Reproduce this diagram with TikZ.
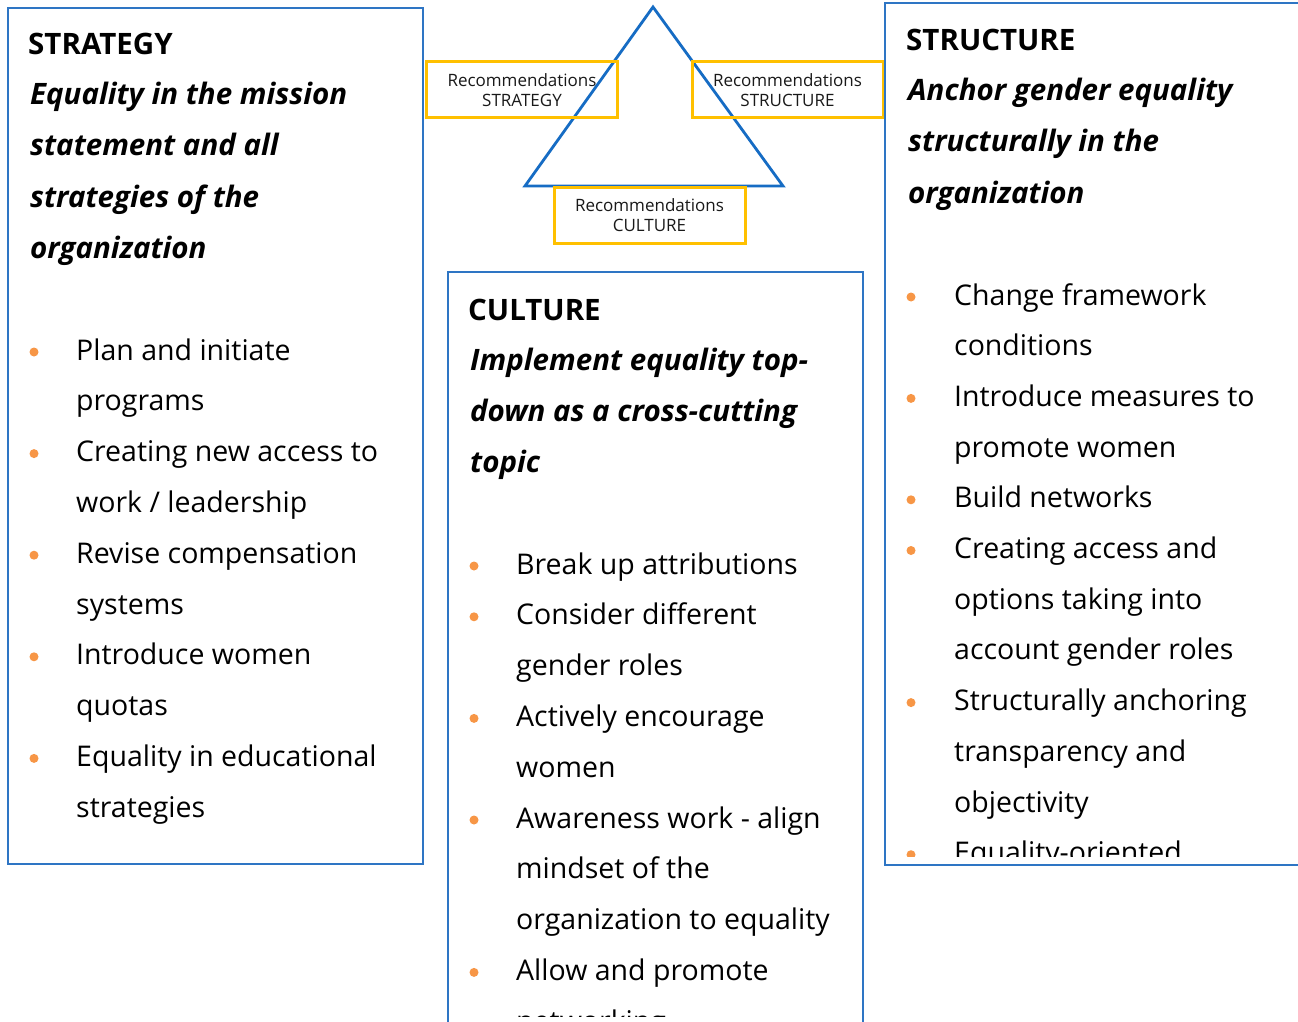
\documentclass[tikz,border=0pt]{standalone}
\usepackage{fontspec}
\setmainfont{Open Sans}
\definecolor{panelblue}{RGB}{46,117,196}
\definecolor{triblue}{RGB}{22,108,196}
\definecolor{recyellow}{RGB}{255,192,0}
\definecolor{recgray}{RGB}{25,25,25}
\definecolor{dotorange}{RGB}{247,150,70}
\begin{document}
\begin{tikzpicture}[x=1pt,y=-1pt,
  panel/.style={draw=panelblue,line width=1.4pt},
  head/.style={anchor=base west,inner sep=0pt,font=\fontsize{29.5}{34}\selectfont\bfseries},
  sub/.style={anchor=base west,inner sep=0pt,font=\fontsize{29.5}{34}\selectfont\bfseries\itshape},
  item/.style={anchor=base west,inner sep=0pt,font=\fontsize{28.5}{34}\selectfont},
  dot/.style={circle,fill=dotorange,inner sep=0pt,minimum size=9pt},
  recbox/.style={draw=recyellow,line width=3pt,align=center,text=recgray,
    font=\fontsize{17}{20}\selectfont,inner sep=0pt,minimum width=191pt,minimum height=56pt},
  tri/.style={draw=triblue,line width=2.8pt,line join=miter},
]
\useasboundingbox (0,0) rectangle (1298,1022);
\fill[white] (0,0) rectangle (1298,1022);

% ---------- central triangle with the three recommendation labels ----------
\coordinate (apex) at (653,7);
\coordinate (bl) at (525,186);
\coordinate (br) at (783,186);
\draw[tri] (apex) -- (bl) -- (br) -- cycle;
\node[recbox] (recstg) at (522,90)    {Recommendations\\STRATEGY};
\node[recbox] (recstr) at (787.5,90)  {Recommendations\\STRUCTURE};
\node[recbox] (reccul) at (649.5,215) {Recommendations\\CULTURE};

% ---------- STRATEGY panel ----------
\draw[panel] (8,8) rectangle (423,864);
\node[head] (stghead) at (28,55) {STRATEGY};
\foreach \t [count=\i] in {Equality in the mission,statement and all,strategies of the,organization}
  \node[sub] (stgsub-\i) at (30,{105+(\i-1)*51}) {\t};
\foreach \t [count=\i] in {Plan and initiate,programs,Creating new access to,work / leadership,Revise compensation,systems,Introduce women,quotas,Equality in educational,strategies}
  \node[item] (stg-\i) at (76,{360+(\i-1)*50.8}) {\t};
\foreach \i in {1,3,5,7,9}
  \node[dot] (stgdot-\i) at (34,{352+(\i-1)*50.8}) {};

% ---------- CULTURE panel (runs past the lower edge) ----------
\draw[panel] (448,1030) -- (448,272) -- (863,272) -- (863,1030);
\begin{scope}
  \clip (449,273) rectangle (862,1016);
  \node[head] (culhead) at (468,320) {CULTURE};
  \foreach \t [count=\i] in {Implement equality top-,down as a cross-cutting,topic}
    \node[sub] (culsub-\i) at (470,{370+(\i-1)*51}) {\t};
  \foreach \t [count=\i] in {Break up attributions,Consider different,gender roles,Actively encourage,women,Awareness work - align,mindset of the,organization to equality,Allow and promote,networking}
    \node[item] (cul-\i) at (516,{574+(\i-1)*50.8}) {\t};
  \foreach \i in {1,2,4,6,9}
    \node[dot] (culdot-\i) at (474,{566+(\i-1)*50.8}) {};
\end{scope}

% ---------- STRUCTURE panel (runs past the right edge) ----------
\draw[panel] (1305,3) -- (885,3) -- (885,865) -- (1305,865);
\begin{scope}
  \clip (886,4) rectangle (1298,856);
  \node[head] (strhead) at (906,51) {STRUCTURE};
  \foreach \t [count=\i] in {Anchor gender equality,structurally in the,organization}
    \node[sub] (strsub-\i) at (908,{101+(\i-1)*51}) {\t};
  \foreach \t [count=\i] in {Change framework,conditions,Introduce measures to,promote women,Build networks,Creating access and,options taking into,account gender roles,Structurally anchoring,transparency and,objectivity,Equality-oriented}
    \node[item] (str-\i) at (954,{305+(\i-1)*50.7}) {\t};
  \foreach \i in {1,3,5,6,9,12}
    \node[dot] (strdot-\i) at (911,{297+(\i-1)*50.7}) {};
\end{scope}
\end{tikzpicture}
\end{document}
